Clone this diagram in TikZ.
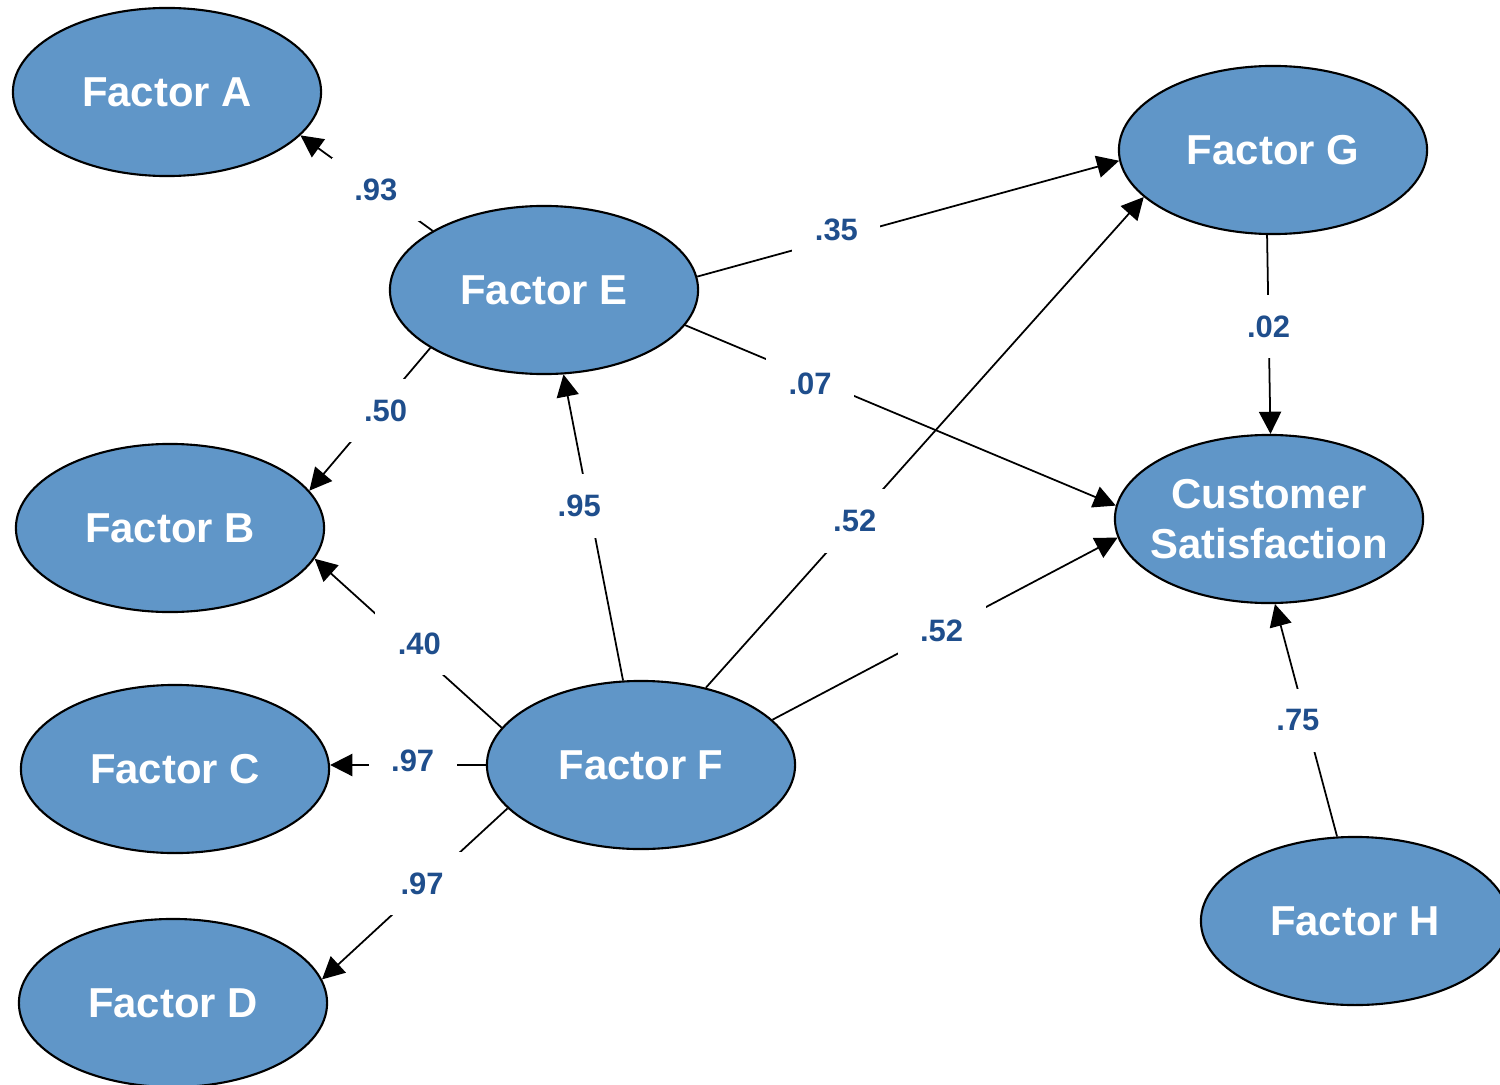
\documentclass[tikz,border=0pt]{standalone}
\usepackage{fontspec}
\setmainfont{Liberation Sans}
\usetikzlibrary{arrows.meta,shapes.geometric}
\definecolor{ellfill}{HTML}{6096C8}
\definecolor{labblue}{HTML}{1F4E8C}
\begin{document}
\begin{tikzpicture}[x=0.01cm,y=-0.01cm,
  factor/.style={ellipse,draw=black,line width=0.6pt,fill=ellfill,minimum width=3.08cm,minimum height=1.68cm,inner sep=0pt,text=white,font=\fontsize{11.9}{14.2}\selectfont\bfseries,align=center},
  conn/.style={draw=black,line width=0.5pt,-{Triangle[length=6.3pt,width=6.3pt]}},
  lab/.style={fill=white,inner sep=0pt,minimum width=25pt,minimum height=18pt,text=labblue,font=\fontsize{8.8}{10}\selectfont\bfseries}]
\useasboundingbox (0,0) rectangle (1500,1085);
\node[factor] (A) at (167,92) {Factor A};
\node[factor] (E) at (544,290) {Factor E};
\node[factor] (G) at (1273,150) {Factor G};
\node[factor] (B) at (170,528) {Factor B};
\node[factor,inner xsep=-4pt] (CS) at (1269,519) {Customer\\Satisfaction};
\node[factor] (C) at (175,769) {Factor C};
\node[factor] (F) at (641,765) {Factor F};
\node[factor] (D) at (173,1003) {Factor D};
\node[factor] (H) at (1355,921) {Factor H};

\draw[conn] (E.152.2) -- node[lab,pos=0.43] {.93} (A.342.4);
\draw[conn] (E.5.2) -- node[lab,pos=0.33,yshift=2.3pt] {.35} (G.184.3);
\draw[conn] (E.207.4) -- node[lab,pos=0.37,yshift=-2.8pt] {.50} (B.15.5);
\draw[conn] (E.346) -- node[lab,pos=0.29,yshift=-1.7pt] {.07} (CS.175.3);
\draw[conn] (F.102.7) -- node[lab,pos=0.57,xshift=-2.8pt] {.95} (E.283.1);
\draw[conn] (F.50.7) -- node[lab,pos=0.34] {.52} (G.200.3);
\draw[conn] (F.19.5) -- node[lab,pos=0.49] {.52} (CS.187.5);
\draw[conn] (F.165.2) -- node[lab,pos=0.44,yshift=2.8pt] {.40} (B.348.4);
\draw[conn] (F.west) -- node[lab,pos=0.47,yshift=1.1pt] {.97} (F.west -| C.east);
\draw[conn] (F.198.4) -- node[lab,pos=0.48,yshift=2pt,xshift=1pt] {.97} (D.9.5);
\draw[conn] (G.266) -- node[lab,pos=0.46] {.02} (CS.89.3);
\draw[conn] (H.102.7) -- node[lab,pos=0.5,xshift=-2.3pt] {.75} (CS.274);
\end{tikzpicture}
\end{document}
